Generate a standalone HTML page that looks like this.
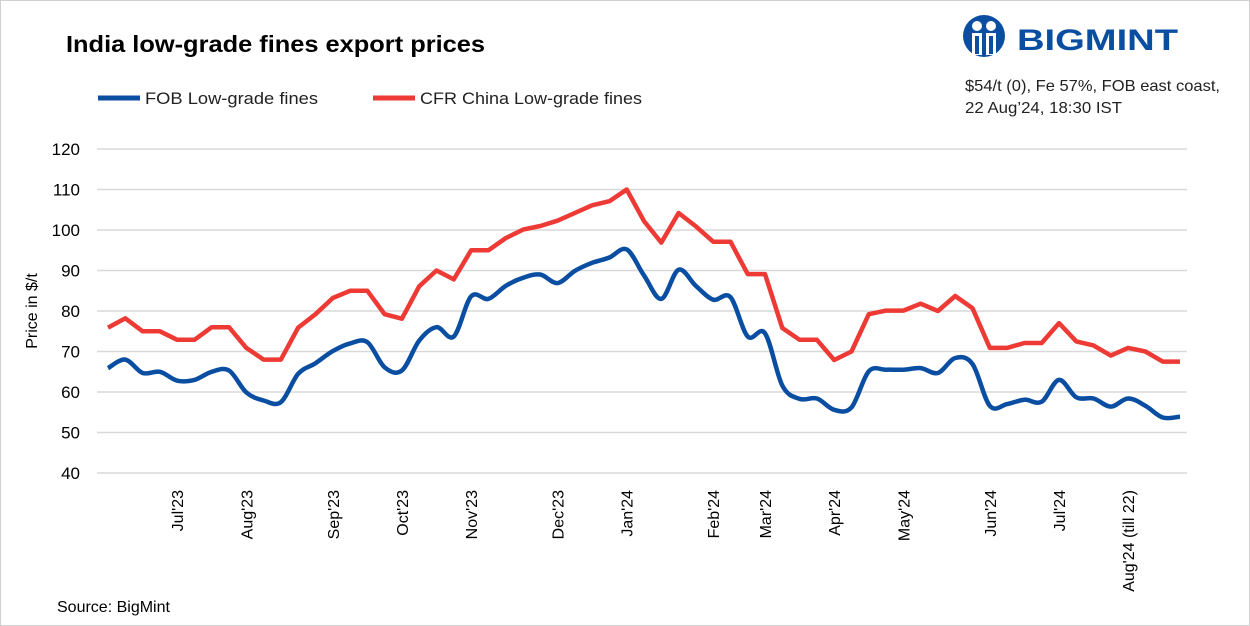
<!DOCTYPE html>
<html><head><meta charset="utf-8"><style>
body{margin:0;background:#fff;}
#wrap{position:relative;width:1250px;height:626px;overflow:hidden;font-family:"Liberation Sans",sans-serif;}
svg{position:absolute;left:0;top:0;}
</style></head><body>
<div id="wrap">
<svg id="chart" width="1250" height="626">
<rect x="0.5" y="0.5" width="1249" height="625" fill="#fff" stroke="#d0d0d0"/>
<text x="66" y="52" font-size="23" font-weight="bold" fill="#000" textLength="419" lengthAdjust="spacingAndGlyphs">India low-grade fines export prices</text>
<g>
<g><line x1="98" y1="98" x2="140" y2="98" stroke="#0a4ea2" stroke-width="5"/><text x="145" y="104" font-size="17" fill="#222" textLength="173" lengthAdjust="spacingAndGlyphs">FOB Low-grade fines</text></g>
<g><line x1="373" y1="98" x2="415" y2="98" stroke="#ee3a35" stroke-width="5"/><text x="420" y="104" font-size="17" fill="#222" textLength="222" lengthAdjust="spacingAndGlyphs">CFR China Low-grade fines</text></g>
</g>
<g>
<circle cx="984" cy="36" r="21" fill="#0a4ea2"/>
<circle cx="977" cy="26" r="5" fill="#fff"/><circle cx="991" cy="26" r="5" fill="#fff"/>
<path d="M972 33 h10 v22 h-10z M986 33 h10 v22 h-10z" fill="#fff"/>
<path d="M975 36 h4 v18 h-4z M989 36 h4 v18 h-4z" fill="#0a4ea2"/>
<text x="1017" y="50" font-size="30" font-weight="bold" fill="#0a4ea2" textLength="161" lengthAdjust="spacingAndGlyphs">BIGMINT</text>
</g>
<text x="965" y="91" font-size="16" fill="#222" textLength="255" lengthAdjust="spacingAndGlyphs">$54/t (0), Fe 57%, FOB east coast,</text>
<text x="965" y="113" font-size="16" fill="#222" textLength="157" lengthAdjust="spacingAndGlyphs">22 Aug’24, 18:30 IST</text>
<text transform="translate(37,311) rotate(-90)" text-anchor="middle" font-size="16" fill="#000">Price in $/t</text>
<text x="57" y="612" font-size="16" fill="#000">Source: BigMint</text>
<g id="grid"></g><g id="yt"></g><g id="xt"></g><g id="series"></g>
</svg>
</div>
<script>
const yTicks=[40,50,60,70,80,90,100,110,120];
const fobValues=[65.9,68,64.7,65,62.8,63,65,65.3,59.9,57.9,57.5,64.5,67.1,70.1,72,72.3,66.1,65.3,72.7,76,73.7,83.6,83,86.2,88.2,89,86.9,89.9,91.9,93.2,95.2,88.8,83,90.2,86.2,82.8,83.4,73.7,74.5,61.6,58.3,58.4,55.6,56.2,65.1,65.5,65.5,65.9,64.7,68.4,66.9,56.6,57,58.1,57.6,63,58.7,58.4,56.4,58.4,56.6,53.7,53.9];
const cfrValues=[75.9,78.2,75,75,72.9,72.9,76,76,70.9,68,68,75.9,79.2,83.2,85,85,79.2,78.1,86.1,90,87.8,95,95,98,100.1,101,102.3,104.2,106.1,107.1,110,102.2,96.9,104.2,100.9,97.1,97.1,89.1,89.1,75.8,72.9,72.9,67.9,70,79.2,80.1,80.1,81.8,80,83.7,80.7,70.9,70.9,72.1,72.1,77,72.5,71.5,69,70.9,70,67.5,67.5];
const monthLabels=["Jul'23","Aug'23","Sep'23","Oct'23","Nov'23","Dec'23","Jan'24","Feb'24","Mar'24","Apr'24","May'24","Jun'24","Jul'24","Aug'24 (till 22)"];
const monthIndex=[4,8,13,17,21,26,30,35,38,42,46,51,55,59];
const NS="http://www.w3.org/2000/svg";
const x0=108,x1=1180,yTop=149,yBot=473,vMin=40,vMax=120;
const n=cfrValues.length;
const X=i=>x0+(x1-x0)*i/(n-1);
const Y=v=>yBot-(v-vMin)/(vMax-vMin)*(yBot-yTop);
function mk(t,a,p){const e=document.createElementNS(NS,t);for(const k in a)e.setAttribute(k,a[k]);p.appendChild(e);return e;}
const grid=document.getElementById('grid'),yt=document.getElementById('yt'),xt=document.getElementById('xt'),ser=document.getElementById('series');
yTicks.forEach(v=>{
  const l=mk('line',{x1:97,x2:1187,y1:Y(v),y2:Y(v),stroke:'#d9d9d9','stroke-width':1.5},grid);
  
  
  const t=mk('text',{x:80,y:Y(v)+6,'text-anchor':'end','font-size':17,fill:'#000'},yt);
  t.textContent=v;
  
  
});
monthLabels.forEach((m,k)=>{
  const x=X(monthIndex[k]);
  const t=mk('text',{transform:`translate(${x+6},490) rotate(-90)`,'text-anchor':'end','font-size':16,fill:'#000'},xt);
  t.textContent=m;
  
  
});
const red=cfrValues.map((v,i)=>`${i?'L':'M'}${X(i).toFixed(1)},${Y(v).toFixed(1)}`).join('');
const pr=mk('path',{d:red,fill:'none',stroke:'#ee3a35','stroke-width':4.5,'stroke-linejoin':'round'},ser);


let d=`M${X(0)},${Y(fobValues[0])}`;
for(let i=0;i<n-1;i++){
  const p0=[X(Math.max(i-1,0)),Y(fobValues[Math.max(i-1,0)])],p1=[X(i),Y(fobValues[i])],p2=[X(i+1),Y(fobValues[i+1])],p3=[X(Math.min(i+2,n-1)),Y(fobValues[Math.min(i+2,n-1)])];
  const c1=[p1[0]+(p2[0]-p0[0])/6,p1[1]+(p2[1]-p0[1])/6],c2=[p2[0]-(p3[0]-p1[0])/6,p2[1]-(p3[1]-p1[1])/6];
  d+=`C${c1[0].toFixed(1)},${c1[1].toFixed(1)} ${c2[0].toFixed(1)},${c2[1].toFixed(1)} ${p2[0].toFixed(1)},${p2[1].toFixed(1)}`;
}
const pb=mk('path',{d:d,fill:'none',stroke:'#0a4ea2','stroke-width':4.5,'stroke-linejoin':'round'},ser);


</script>
</body></html>
